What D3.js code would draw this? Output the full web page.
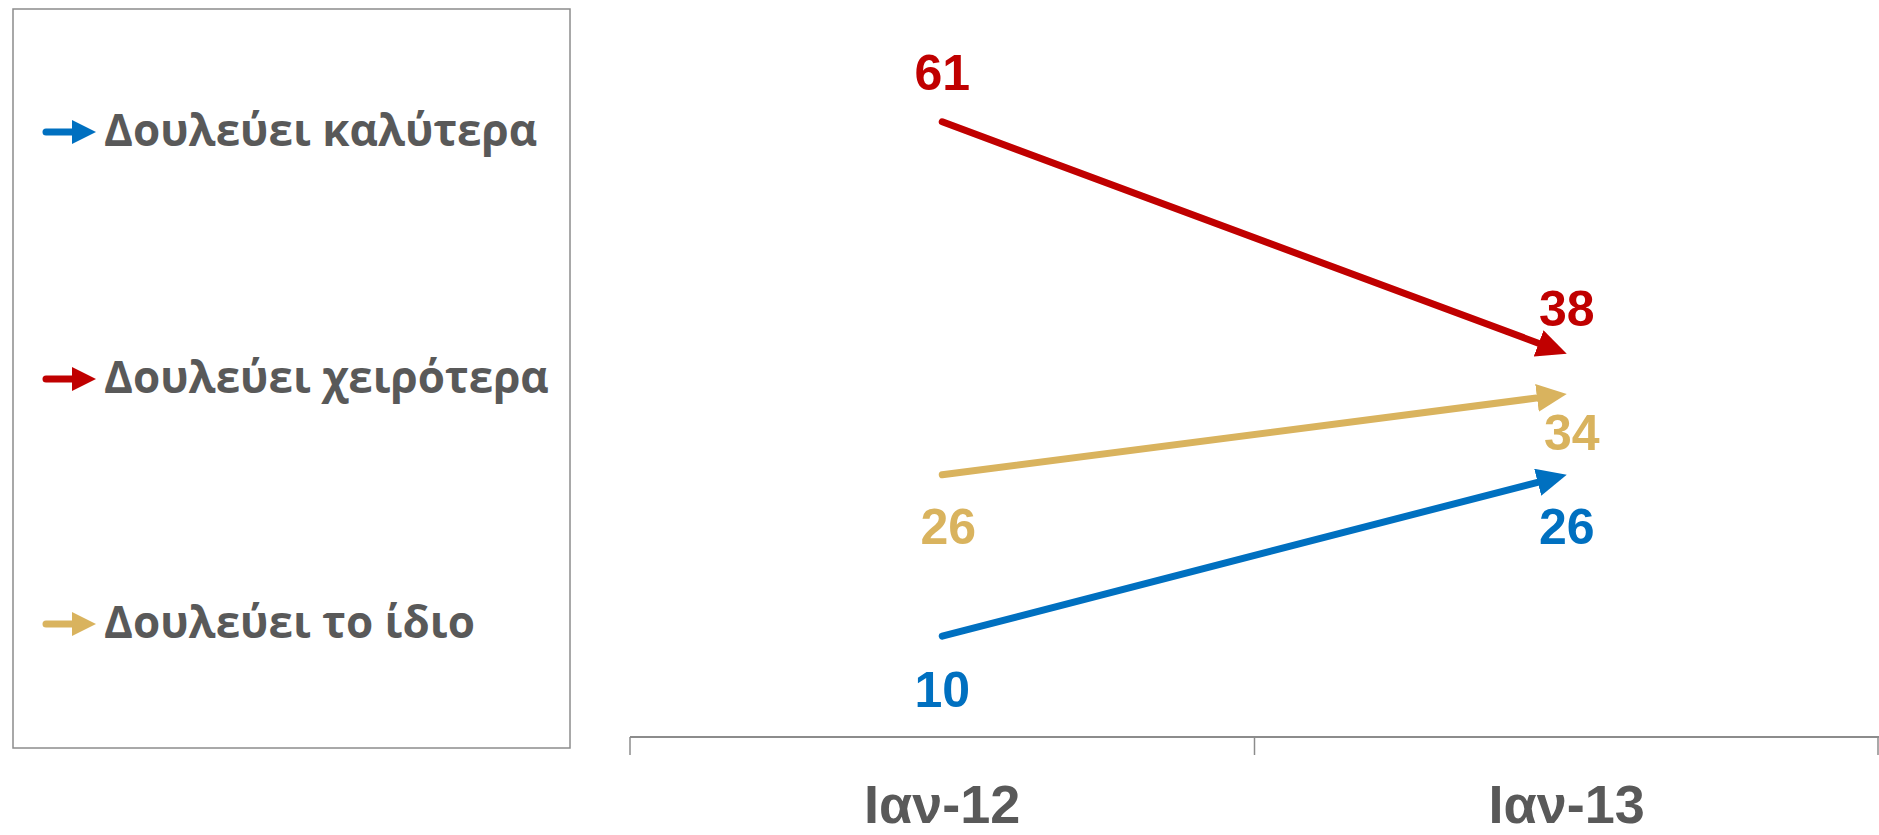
<!DOCTYPE html>
<html><head><meta charset="utf-8">
<script src="https://cdn.jsdelivr.net/npm/d3@7"></script>
<style>html,body{margin:0;padding:0;background:#fff;}svg{display:block;}</style>
</head><body>
<div id="chart"></div>
<script>
const categories = ["Ιαν-12", "Ιαν-13"];
const seriesNames = ["Δουλεύει καλύτερα", "Δουλεύει χειρότερα", "Δουλεύει το ίδιο"];
const betterValues = [10, 26];
const worseValues = [61, 38];
const sameValues = [26, 34];

// styling (label offsets in px from the point)
const colors = ["#0070C0", "#C00000", "#D9B35E"];
const labelOffsets = [[54, 52], [-49, -45], [52, 39]];
const labelDx = [[0, 0], [0, 0], [6, 5]];
const headLen = 30, headBack = 16;

const series = [betterValues, worseValues, sameValues].map((v, i) => ({
  name: seriesNames[i], values: v, color: colors[i]
}));

const W = 1879, H = 835;
const svg = d3.select("#chart").append("svg").attr("width", W).attr("height", H);

const x = d3.scaleBand().domain(categories).range([630, 1879]);
const y = d3.scaleLinear().domain([0, 70]).range([737, 31]);

const defs = svg.append("defs");
series.forEach((s, i) => {
  defs.append("marker").attr("id", "arr" + i)
    .attr("markerUnits", "userSpaceOnUse")
    .attr("markerWidth", headLen).attr("markerHeight", 28)
    .attr("refX", headLen - headBack).attr("refY", 14).attr("orient", "auto")
    .append("path").attr("d", `M0,0 L${headLen},14 L0,28 Z`).attr("fill", s.color);
  defs.append("marker").attr("id", "larr" + i)
    .attr("markerUnits", "userSpaceOnUse")
    .attr("markerWidth", 24).attr("markerHeight", 24)
    .attr("refX", 2).attr("refY", 12).attr("orient", "auto")
    .append("path").attr("d", "M0,0 L24,12 L0,24 Z").attr("fill", s.color);
});

// Axis
const axis = d3.axisBottom(x).tickSize(0).tickFormat("");
const gx = svg.append("g").attr("transform", "translate(0,737)").call(axis);
gx.select(".domain").attr("stroke", "#8c8c8c").attr("stroke-width", 2).attr("d", "M630,0H1879");
gx.selectAll(".tick").remove();
const bounds = [x.range()[0], x(categories[1]), x.range()[1] - 1];
gx.selectAll("line.sep").data(bounds).enter().append("line")
  .attr("x1", d => d).attr("x2", d => d).attr("y1", 0).attr("y2", 18)
  .attr("stroke", "#8c8c8c").attr("stroke-width", 1.5);

svg.selectAll("text.cat").data(categories).enter().append("text")
  .attr("x", d => x(d) + x.bandwidth() / 2).attr("y", 823)
  .attr("text-anchor", "middle")
  .attr("font-family", "'Liberation Sans Narrow', 'Liberation Sans', sans-serif")
  .attr("font-weight", "bold").attr("font-size", 54).attr("fill", "#595959")
  .text(d => d);

// Lines
const cx = c => x(c) + x.bandwidth() / 2;
series.forEach((s, i) => {
  const x1 = cx(categories[0]), y1 = y(s.values[0]);
  const x2 = cx(categories[1]), y2 = y(s.values[1]);
  const len = Math.hypot(x2 - x1, y2 - y1);
  const ux = (x2 - x1) / len, uy = (y2 - y1) / len;
  svg.append("line")
    .attr("x1", x1).attr("y1", y1)
    .attr("x2", x2 - ux * headBack).attr("y2", y2 - uy * headBack)
    .attr("stroke", s.color).attr("stroke-width", 7).attr("stroke-linecap", "round")
    .attr("marker-end", "url(#arr" + i + ")");
  s.values.forEach((v, j) => {
    svg.append("text")
      .attr("x", cx(categories[j]) + labelDx[i][j]).attr("y", y(v) + labelOffsets[i][j])
      .attr("text-anchor", "middle").attr("dominant-baseline", "central")
      .attr("font-family", "'Liberation Sans Narrow', 'Liberation Sans', sans-serif")
      .attr("font-weight", "bold").attr("font-size", 50).attr("fill", s.color)
      .text(v);
  });
});

// Legend
svg.append("rect").attr("x", 13).attr("y", 9).attr("width", 557).attr("height", 739)
  .attr("fill", "none").attr("stroke", "#8c8c8c").attr("stroke-width", 1.5);
const legY = [132, 379, 624];
series.forEach((s, i) => {
  const g = svg.append("g").attr("transform", `translate(0,${legY[i]})`);
  g.append("line").attr("x1", 46).attr("x2", 74).attr("y1", 0).attr("y2", 0)
    .attr("stroke", s.color).attr("stroke-width", 7).attr("stroke-linecap", "round")
    .attr("marker-end", "url(#larr" + i + ")");
  g.append("text").attr("x", 104).attr("y", 14)
    .attr("font-family", "'Open Sans', sans-serif").attr("font-weight", "bold")
    .attr("font-size", 44).attr("fill", "#595959").text(s.name);
});
</script>
</body></html>
